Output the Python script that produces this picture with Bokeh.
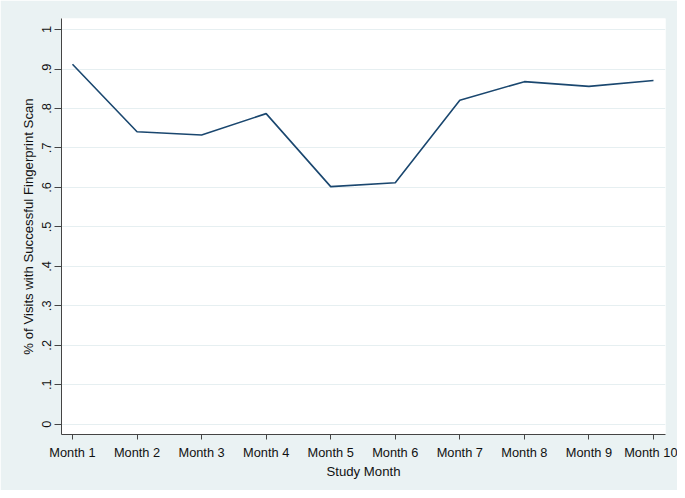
from bokeh.plotting import figure
from bokeh.models import Range1d, FixedTicker, ColumnDataSource
from bokeh.embed import file_html
from bokeh.resources import INLINE

months = [1, 2, 3, 4, 5, 6, 7, 8, 9, 10]
month_labels = ["Month 1", "Month 2", "Month 3", "Month 4", "Month 5",
                "Month 6", "Month 7", "Month 8", "Month 9", "Month 10"]
success_rate = [0.912, 0.741, 0.733, 0.787, 0.602, 0.612, 0.821, 0.868, 0.856, 0.871]
y_ticks = [0, 0.1, 0.2, 0.3, 0.4, 0.5, 0.6, 0.7, 0.8, 0.9, 1.0]
y_tick_labels = ["0", ".1", ".2", ".3", ".4", ".5", ".6", ".7", ".8", ".9", "1"]

BG = "#eaf2f3"
FONT = "Liberation Sans"

src = ColumnDataSource(dict(x=months, y=success_rate))

p = figure(width=677, height=490, output_backend="svg", toolbar_location=None,
           x_range=Range1d(0.83, 10.186), y_range=Range1d(-0.026, 1.028),
           min_border_left=61, min_border_right=12, min_border_top=18,
           min_border_bottom=56)

p.background_fill_color = "white"
p.border_fill_color = BG
p.outline_line_color = None

p.line("x", "y", source=src, line_color="#1a476f", line_width=1.6)

# x axis
p.xaxis.ticker = FixedTicker(ticks=months)
p.xaxis.major_label_overrides = {m: l for m, l in zip(months, month_labels)}
p.xaxis.axis_label = "Study Month"
p.xaxis.minor_tick_line_color = None
p.xaxis.major_tick_out = 5
p.xaxis.major_tick_in = 0
p.xaxis.major_label_standoff = 5
p.xaxis.axis_label_standoff = 1

# y axis
p.yaxis.ticker = FixedTicker(ticks=y_ticks)
p.yaxis.major_label_overrides = {t: l for t, l in zip(y_ticks, y_tick_labels)}
p.yaxis.axis_label = "% of Visits with Successful Fingerprint Scan"
p.yaxis.minor_tick_line_color = None
p.yaxis.major_tick_out = 7
p.yaxis.major_tick_in = 0
p.yaxis.major_label_orientation = "vertical"
p.yaxis.major_label_standoff = 3
p.yaxis.axis_label_standoff = 4

for ax in (p.xaxis, p.yaxis):
    ax.axis_line_color = "#444444"
    ax.major_tick_line_color = "#444444"
    ax.major_label_text_font = FONT
    ax.major_label_text_font_size = "12.8px"
    ax.major_label_text_color = "#111111"
    ax.axis_label_text_font = FONT
    ax.axis_label_text_font_size = "13.2px"
    ax.axis_label_text_font_style = "normal"
    ax.axis_label_text_color = "#111111"

p.xgrid.grid_line_color = None
p.ygrid.ticker = FixedTicker(ticks=y_ticks)
p.ygrid.grid_line_color = "#e6eff1"
p.ygrid.grid_line_width = 1

open("out.html", "w").write(file_html(p, INLINE))
